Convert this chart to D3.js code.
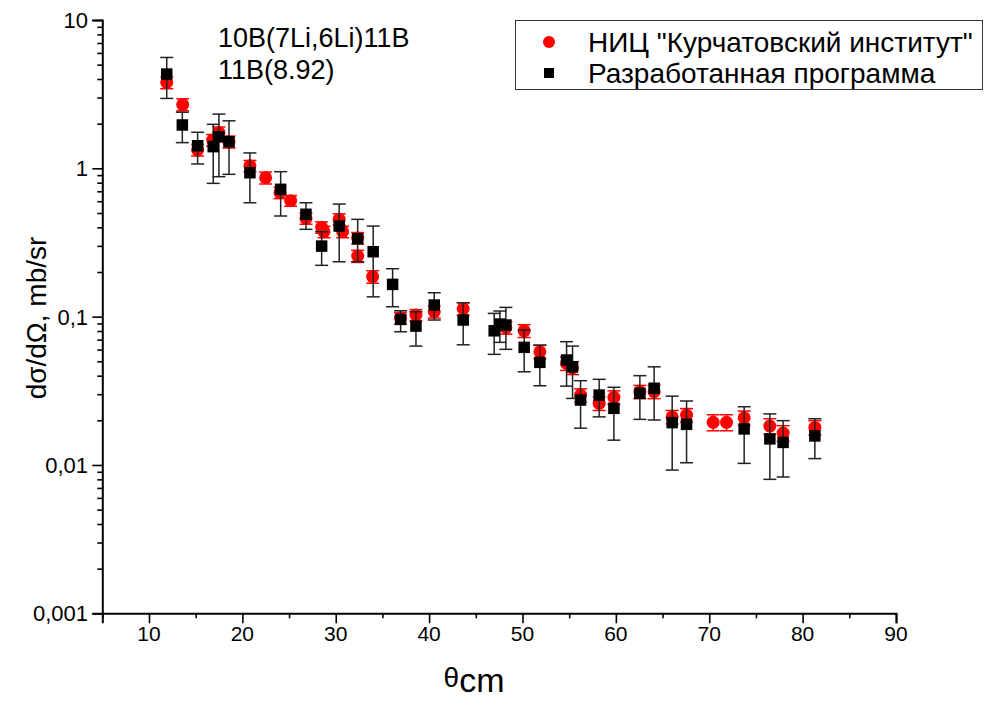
<!DOCTYPE html>
<html><head><meta charset="utf-8">
<script src="https://cdn.jsdelivr.net/npm/d3@7"></script>
<style>html,body{margin:0;padding:0;background:#fff;}svg{display:block;}</style>
</head><body>
<script>
// ---- data ----
const redTheta = [11.90,13.61,15.21,16.82,17.49,18.57,20.81,22.49,24.03,25.17,26.81,28.49,28.74,30.37,30.74,32.35,32.35,33.95,36.93,38.59,40.55,43.65,48.22,50.18,51.86,54.72,55.36,56.22,58.21,59.79,62.57,64.10,66.03,67.57,70.42,71.85,73.74,76.49,77.91,81.31];
const redValue = [3.79,2.69,1.33,1.55,1.74,1.51,1.04,0.864,0.685,0.605,0.460,0.400,0.3735,0.453,0.3735,0.339,0.256,0.186,0.0978,0.1025,0.1079,0.1130,0.0842,0.0803,0.0580,0.0484,0.0452,0.0296,0.0260,0.0286,0.0312,0.0312,0.0211,0.0217,0.0194,0.0194,0.0208,0.0183,0.0164,0.0179];
const redErr = [0.35,0.25,0.12,0.14,0.16,0.14,0.09,0.08,0.06,0.05,0.04,0.035,0.033,0.04,0.033,0.03,0.024,0.018,0.009,0.009,0.01,0.011,0.008,0.008,0.006,0.005,0.0045,0.003,0.0027,0.003,0.0032,0.0032,0.0022,0.0023,0.0024,0.0024,0.0023,0.0022,0.002,0.002];

const blackTheta = [11.90,13.57,15.21,16.88,17.49,18.57,20.81,24.10,26.81,28.49,30.37,32.35,34.01,36.09,36.95,38.59,40.55,43.65,46.97,47.58,48.22,50.18,51.86,54.72,55.36,56.22,58.21,59.79,62.57,64.10,66.03,67.57,73.74,76.49,77.91,81.31];
const blackValue = [4.32,1.96,1.42,1.40,1.63,1.51,0.934,0.722,0.490,0.299,0.408,0.335,0.274,0.165,0.0959,0.0864,0.1197,0.0949,0.0803,0.0891,0.0878,0.0621,0.0492,0.0510,0.0459,0.0274,0.0296,0.0241,0.0304,0.0329,0.0193,0.0188,0.0175,0.0150,0.0142,0.0157];
const blackUpper = [5.59,2.39,1.75,1.98,2.32,2.09,1.27,0.949,0.586,0.3735,0.574,0.453,0.408,0.2104,0.1096,0.1079,0.1449,0.1241,0.1052,0.1091,0.1155,0.0812,0.0643,0.0678,0.0633,0.0370,0.0378,0.0334,0.0400,0.0459,0.0291,0.0270,0.0247,0.0221,0.0199,0.0205];
const blackLower = [2.96,1.49,1.07,0.792,0.878,0.911,0.586,0.477,0.388,0.2218,0.2345,0.2345,0.136,0.1166,0.0791,0.0633,0.0949,0.0646,0.0557,0.0671,0.0602,0.0425,0.0342,0.0340,0.0281,0.0177,0.0211,0.0147,0.0203,0.0201,0.00924,0.01035,0.01025,0.0080,0.0083,0.01104];

const xTicks = [10,20,30,40,50,60,70,80,90];
const xMinorTicks = [5,15,25,35,45,55,65,75,85];
const yTicks = [0.001,0.01,0.1,1,10];
const yTickLabels = ["0,001","0,01","0,1","1","10"];
const seriesNames = ["НИЦ \"Курчатовский институт\"","Разработанная программа"];
const annotation = ["10B(7Li,6Li)11B","11B(8.92)"];

// ---- chart ----
const W = 988, H = 702;
const svg = d3.select("body").append("svg").attr("width", W).attr("height", H);
const x = d3.scaleLinear().domain([5, 90]).range([102.3, 896]);
const y = d3.scaleLog().domain([0.001, 10]).range([613.3, 20]);
const font = "'Liberation Sans', Arial, sans-serif";

// red series error bars + circles
const cap = 6.5;
const gR = svg.append("g");
redTheta.forEach((t, i) => {
  const cx = x(t), y1 = y(redValue[i] + redErr[i]), y2 = y(redValue[i] - redErr[i]);
  gR.append("line").attr("x1", cx).attr("x2", cx).attr("y1", y1).attr("y2", y2).attr("stroke", "#ff0000").attr("stroke-width", 1.5);
  [y1, y2].forEach(yy => gR.append("line").attr("x1", cx - cap).attr("x2", cx + cap).attr("y1", yy).attr("y2", yy).attr("stroke", "#ff0000").attr("stroke-width", 1.5));
});
gR.selectAll("circle").data(redTheta).join("circle")
  .attr("cx", d => x(d)).attr("cy", (d, i) => y(redValue[i])).attr("r", 6.5).attr("fill", "#ff0000");

// black series
const gB = svg.append("g");
blackTheta.forEach((t, i) => {
  const cx = x(t), y1 = y(blackUpper[i]), y2 = y(blackLower[i]);
  gB.append("line").attr("x1", cx).attr("x2", cx).attr("y1", y1).attr("y2", y2).attr("stroke", "#222").attr("stroke-width", 1.5);
  [y1, y2].forEach(yy => gB.append("line").attr("x1", cx - cap).attr("x2", cx + cap).attr("y1", yy).attr("y2", yy).attr("stroke", "#222").attr("stroke-width", 1.5));
});
const sq = 11.5;
gB.selectAll("rect").data(blackTheta).join("rect")
  .attr("x", d => x(d) - sq / 2).attr("y", (d, i) => y(blackValue[i]) - sq / 2)
  .attr("width", sq).attr("height", sq).attr("fill", "#000");

// axes
const xAxis = svg.append("g").attr("transform", `translate(0,${y.range()[0]})`);
xAxis.call(d3.axisBottom(x).tickValues(xTicks).tickSize(10).tickFormat(""));
xAxis.append("g").call(d3.axisBottom(x).tickValues(xMinorTicks).tickSize(5).tickFormat(""));
xAxis.selectAll(".domain").attr("stroke", "#000").attr("stroke-width", 2);
xAxis.selectAll(".tick line").attr("stroke", "#000").attr("stroke-width", 1.6);
xAxis.selectAll("g g .domain").remove();

const yAxis = svg.append("g").attr("transform", `translate(${x.range()[0]},0)`);
yAxis.call(d3.axisLeft(y).tickValues(yTicks).tickSize(10).tickFormat(""));
const yMinor = [];
yTicks.slice(0, -1).forEach(b => { for (let k = 2; k <= 9; k++) yMinor.push(b * k); });
yAxis.append("g").call(d3.axisLeft(y).tickValues(yMinor).tickSize(5).tickFormat(""));
yAxis.selectAll(".domain").attr("stroke", "#000").attr("stroke-width", 2);
yAxis.selectAll(".tick line").attr("stroke", "#000").attr("stroke-width", 1.6);
yAxis.selectAll("g g .domain").remove();

// tick labels
svg.append("g").selectAll("text").data(xTicks).join("text")
  .attr("x", d => x(d)).attr("y", 641).attr("text-anchor", "middle")
  .attr("font-family", "'Liberation Sans Narrow', 'Liberation Sans', Arial, sans-serif").attr("font-size", 21).text(d => d);
svg.append("g").selectAll("text").data(yTicks).join("text")
  .attr("x", 88).attr("y", d => y(d)).attr("dy", "0.36em").attr("text-anchor", "end")
  .attr("font-family", font).attr("font-size", 22).text((d, i) => yTickLabels[i]);

// axis titles
svg.append("text").attr("transform", "translate(46,318) rotate(-90)").attr("text-anchor", "middle")
  .attr("font-family", font).attr("font-size", 28).text("dσ/dΩ, mb/sr");
const xt = svg.append("text").attr("x", 474).attr("y", 692).attr("text-anchor", "middle").attr("font-family", font);
xt.append("tspan").attr("font-size", 28).attr("dy", -5).text("θ");
xt.append("tspan").attr("font-size", 34).attr("dy", 5).text("cm");

// annotation
svg.append("g").selectAll("text").data(annotation).join("text")
  .attr("x", 218).attr("y", (d, i) => 47 + i * 32).attr("font-family", font).attr("font-size", 27).text(d => d);

// legend
const lg = svg.append("g");
lg.append("rect").attr("x", 515.5).attr("y", 20.5).attr("width", 467).attr("height", 69).attr("fill", "#fff").attr("stroke", "#333").attr("stroke-width", 1);
lg.append("circle").attr("cx", 549).attr("cy", 42).attr("r", 6).attr("fill", "#ff0000");
lg.append("rect").attr("x", 544).attr("y", 68).attr("width", 10).attr("height", 10).attr("fill", "#000");
lg.selectAll("text.l").data(seriesNames).join("text").attr("class", "l")
  .attr("x", 588).attr("y", (d, i) => 52 + i * 31).attr("font-family", font).attr("font-size", 28).text(d => d);
</script>
</body></html>
